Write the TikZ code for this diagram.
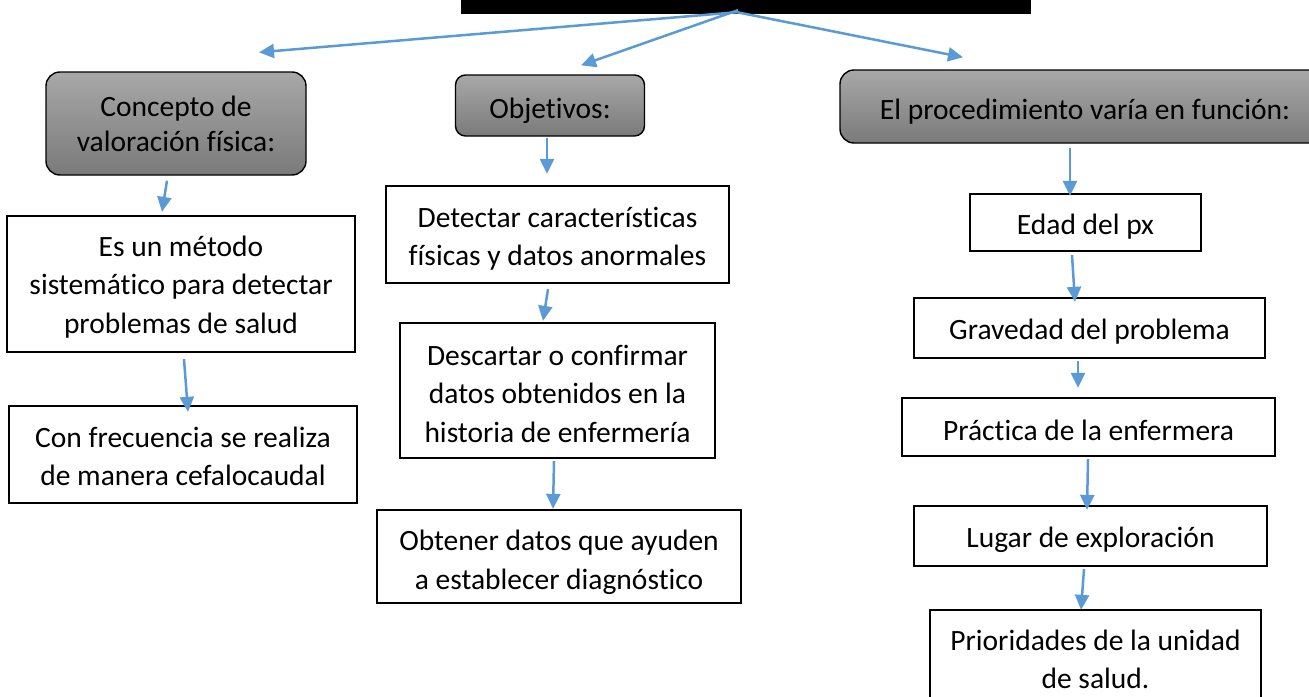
\documentclass[tikz,border=0pt]{standalone}
\usepackage{fontspec}
\setmainfont{Carlito}[Ligatures={NoCommon}]
\usetikzlibrary{arrows.meta}
\definecolor{arrblue}{RGB}{91,155,213}
\definecolor{gtop}{RGB}{168,168,168}
\definecolor{gbot}{RGB}{122,122,122}
\begin{document}
\begin{tikzpicture}[x=1pt,y=1pt,
 wbox/.style={draw=black, line width=2.3pt, fill=white, inner sep=0pt},
 gbox/.style={draw=black, line width=1.4pt, rounded corners=14pt, top color=gtop, bottom color=gbot, inner sep=0pt},
 wtxt/.style={align=center, inner sep=0pt, font=\fontsize{29.5}{38.5}\selectfont},
 gtxt/.style={align=center, inner sep=0pt, font=\fontsize{29.5}{35}\selectfont},
 arr/.style={draw=arrblue, line width=2.5pt, -{Triangle[length=15pt,width=14pt]}}]
\useasboundingbox (0,0) rectangle (1309,-696);
\fill[white] (0,0) rectangle (1309,-696);

% top bar
\node[fill=black, inner sep=0pt, minimum width=570pt, minimum height=14pt] (top) at (746,-7) {};

% gray headers
\node[gbox, minimum width=260pt, minimum height=103pt,
  label={[gtxt]center:{Concepto de\\valoración física:}}] (c1) at (176,-123.5) {};
\node[gbox, rounded corners=10pt, minimum width=189pt, minimum height=61pt,
  label={[gtxt,yshift=-5pt]center:{Objetivos:}}] (c2) at (550,-105.5) {};
\node[gbox, minimum width=490pt, minimum height=73pt,
  label={[gtxt,yshift=-5pt]center:{El procedimiento varía en función:}}] (c3) at (1085,-106.5) {};

% left column
\node[wbox, minimum width=348pt, minimum height=136pt,
  label={[wtxt,yshift=-3pt]center:{Es un método\\sistemático para detectar\\problemas de salud}}] (l1) at (181,-284) {};
\node[wbox, minimum width=348pt, minimum height=97pt,
  label={[wtxt,yshift=-2pt]center:{Con frecuencia se realiza\\de manera cefalocaudal}}] (l2) at (183,-454.5) {};

% middle column
\node[wbox, minimum width=343pt, minimum height=97pt,
  label={[wtxt,yshift=-4pt]center:{Detectar características\\físicas y datos anormales}}] (m1) at (557.5,-234.5) {};
\node[wbox, minimum width=315pt, minimum height=135pt,
  label={[wtxt,yshift=-3pt]center:{Descartar o confirmar\\datos obtenidos en la\\historia de enfermería}}] (m2) at (557.5,-390.5) {};
\node[wbox, minimum width=364pt, minimum height=93pt,
  label={[wtxt,yshift=-6pt]center:{Obtener datos que ayuden\\a establecer diagnóstico}}] (m3) at (559,-556.5) {};

% right column
\node[wbox, minimum width=231pt, minimum height=57pt,
  label={[wtxt,yshift=-4pt]center:{Edad del px}}] (r1) at (1085.5,-222.5) {};
\node[wbox, minimum width=351pt, minimum height=60pt,
  label={[wtxt,yshift=-4pt]center:{Gravedad del problema}}] (r2) at (1089.5,-328) {};
\node[wbox, minimum width=373pt, minimum height=58pt,
  label={[wtxt,yshift=-3pt]center:{Práctica de la enfermera}}] (r3) at (1088.5,-427) {};
\node[wbox, minimum width=353pt, minimum height=60pt,
  label={[wtxt,yshift=-4pt]center:{Lugar de exploración}}] (r4) at (1090.5,-536) {};
\node[wbox, minimum width=331pt, minimum height=97pt,
  label={[wtxt,yshift=-1pt]center:{Prioridades de la unidad\\de salud.}}] (r5) at (1095.5,-658.5) {};

% top arrows
\draw[arr] ([xshift=-9pt,yshift=2pt]top.south) -- ([xshift=83pt,yshift=19pt]c1.north);
\draw[arr] ([xshift=-8pt,yshift=4pt]top.south) -- ([xshift=31pt,yshift=9pt]c2.north);
\draw[arr] ([xshift=-9pt,yshift=2pt]top.south) -- ([xshift=-122pt,yshift=12pt]c3.north);

% column arrows
\draw[arr] ([xshift=-9pt,yshift=-5pt]c1.south) -- ([xshift=-19pt,yshift=3pt]l1.north);
\draw[arr] ([xshift=3pt,yshift=-6pt]l1.south) -- ([xshift=5pt,yshift=-7pt]l2.north);

\draw[arr] ([xshift=-3pt,yshift=-1pt]c2.south) -- ([xshift=-10.5pt,yshift=11pt]m1.north);
\draw[arr] ([xshift=-9.5pt,yshift=-5pt]m1.south) -- ([xshift=-14.5pt,yshift=1pt]m2.north);
\draw[arr] ([xshift=-3.5pt,yshift=-2pt]m2.south) -- ([xshift=-6pt,yshift=0pt]m3.north);

\draw[arr] ([xshift=-15pt,yshift=-4pt]c3.south) -- ([xshift=-15.5pt,yshift=-3pt]r1.north);
\draw[arr] ([xshift=-13.5pt,yshift=-3pt]r1.south) -- ([xshift=-14.5pt,yshift=-5pt]r2.north);
\draw[arr] ([xshift=-11.5pt,yshift=-2pt]r2.south) -- ([xshift=-10.5pt,yshift=9pt]r3.north);
\draw[arr] ([xshift=-0.5pt,yshift=-2pt]r3.south) -- ([xshift=-3.5pt,yshift=-5pt]r4.north);
\draw[arr] ([xshift=-6.5pt,yshift=-2pt]r4.south) -- ([xshift=-14.5pt,yshift=-1pt]r5.north);
\end{tikzpicture}
\end{document}
